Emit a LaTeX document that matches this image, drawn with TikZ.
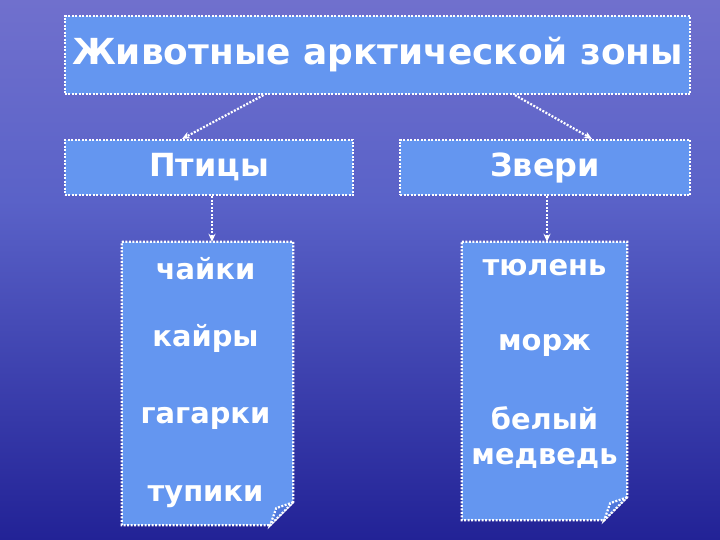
\documentclass[tikz,border=0pt]{standalone}
\usepackage{fontspec}
\setmainfont{DejaVu Sans}
\usetikzlibrary{calc, positioning, arrows.meta}

\definecolor{boxblue}{RGB}{100,150,240}
\definecolor{skytop}{RGB}{112,112,205}
\definecolor{skymid}{RGB}{90,98,200}
\definecolor{seamid}{RGB}{52,52,172}
\definecolor{seabot}{RGB}{34,34,150}
\definecolor{flapblue}{RGB}{80,120,220}

\tikzset{
	box/.style = {draw = white, dash pattern = on 2bp off 1.5bp, line width = 2.2bp, fill = boxblue, text = white, font = \bfseries\fontsize{32}{34}\selectfont, inner sep = 0pt},
	link/.style = {-{Stealth[length = 8bp, width = 7bp]}, white, dash pattern = on 2bp off 1.5bp, line width = 2.2bp},
	item/.style = {text = white, font = \bfseries\fontsize{29}{35}\selectfont, align = center}
}

\begin{document}
\begin{tikzpicture}[x = 1bp, y = -1bp]
	\useasboundingbox (0,0) rectangle (720,540);
	\shade[top color = skytop, bottom color = skymid] (0,0) rectangle (720,200);
	\shade[top color = skymid, middle color = seamid, bottom color = seabot] (0,200) rectangle (720,540);

	\node[box, minimum width = 625bp, minimum height = 78bp, font = \bfseries\fontsize{36}{38}\selectfont] (title) at (377.5,55) {Животные арктической зоны};
	\node[box, minimum width = 288bp, minimum height = 55bp] (birds) at (209,167.5) {Птицы};
	\node[box, minimum width = 290bp, minimum height = 55bp] (beasts) at (545,167.5) {Звери};

	\def\c{23}
	\node[minimum width = 171bp, minimum height = 283bp, inner sep = 0pt] (birdlist) at (207.5,383.5) {};
	\node[minimum width = 165bp, minimum height = 278bp, inner sep = 0pt] (beastlist) at (544.5,381) {};

	\foreach \lst in {birdlist, beastlist} {
		\filldraw[box] (\lst.north west) -- (\lst.north east) -- ($(\lst.south east)+(0,-\c)$) -- ($(\lst.south east)+(-\c,0)$) -- (\lst.south west) -- cycle;
		\filldraw[box, fill = flapblue] ($(\lst.south east)+(0,-\c)$) -- ($(\lst.south east)+(-\c,0)$) -- ($(\lst.south east)+(-17,-17)$) -- cycle;
	}

	\foreach \name/\dy [count = \i] in {чайки/27, кайры/97, гагарки/177, тупики/255}
		\node[item] (bird\i) at ($(birdlist.north)+(-2,\dy)$) {\name};
	\foreach \name/\dy [count = \i] in {тюлень/26, морж/104, белый\\медведь/196}
		\node[item] (beast\i) at ($(beastlist.north)+(0,\dy)$) {\name};

	\draw[link] ([xshift = -114bp]title.south) -- ([xshift = -27bp]birds.north);
	\draw[link] ([xshift = 137.5bp]title.south) -- ([xshift = 47bp]beasts.north);
	\draw[link] ([xshift = 3bp]birds.south) -- ([xshift = 4.5bp]birdlist.north);
	\draw[link] ([xshift = 2bp]beasts.south) -- ([xshift = 2.5bp]beastlist.north);
\end{tikzpicture}
\end{document}
